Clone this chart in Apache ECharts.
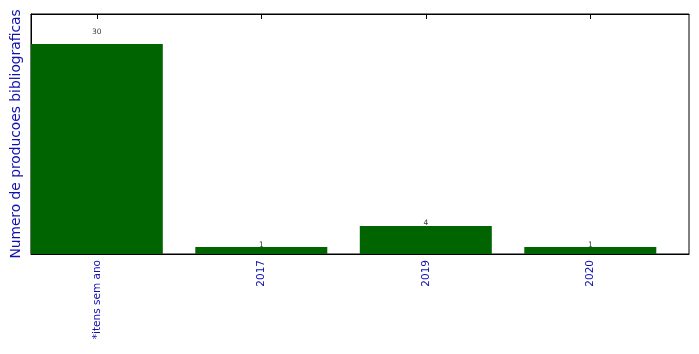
<!DOCTYPE html>
<html>
<head>
<meta charset="utf-8">
<script src="https://cdn.jsdelivr.net/npm/echarts@6/dist/echarts.min.js"></script>
<style>html,body{margin:0;padding:0;background:#fff}#c{width:699px;height:354px}</style>
</head>
<body>
<div id="c"></div>
<script>
var categories = ['*itens sem ano', '2017', '2019', '2020'];
var values = [30, 1, 4, 1];
var yLabel = 'Numero de producoes bibliograficas';

var positions = categories.map(function (c, i) { return i; });
var barData = values.map(function (v, i) { return [i, v]; });
var labelData = values.map(function (v, i) { return [i, v * 1.05, v]; });

var chart = echarts.init(document.getElementById('c'));
chart.setOption({
  animation: false,
  grid: { left: 31, top: 14, width: 658, height: 240, show: true, borderColor: '#000', borderWidth: 1, backgroundColor: 'transparent' },
  xAxis: [{
    type: 'value', min: -0.4, max: 3.6, position: 'bottom',
    axisLine: { show: true, onZero: false, lineStyle: { color: '#000', width: 1 } },
    splitLine: { show: false },
    axisTick: { show: true, inside: true, length: 5, lineStyle: { color: '#000' }, customValues: positions },
    axisLabel: {
      show: true, rotate: 90, margin: 6, color: '#1010b0', fontSize: 10.5, fontFamily: 'DejaVu Sans',
      customValues: positions,
      formatter: function (v) { return categories[Math.round(v)]; }
    }
  }, {
    type: 'value', min: -0.4, max: 3.6, position: 'top',
    axisLine: { show: true, onZero: false, lineStyle: { color: '#000', width: 1 } },
    splitLine: { show: false },
    axisTick: { show: true, inside: true, length: 5, lineStyle: { color: '#000' }, customValues: positions },
    axisLabel: { show: false }
  }],
  yAxis: {
    type: 'value', min: 0, max: 34.3,
    axisLine: { show: true, onZero: false, lineStyle: { color: '#000' } },
    axisTick: { show: false }, axisLabel: { show: false }, splitLine: { show: false },
    name: yLabel, nameLocation: 'middle', nameGap: 8,
    nameTextStyle: { color: '#1010b0', fontSize: 13.8, fontFamily: 'DejaVu Sans' }
  },
  series: [{
    type: 'bar', data: barData, barWidth: 132, xAxisIndex: 0,
    itemStyle: { color: '#006400' }
  }, {
    type: 'scatter', data: labelData, symbolSize: 0, xAxisIndex: 0,
    label: {
      show: true, position: 'top', distance: -2, color: '#000', fontSize: 7.5, fontFamily: 'DejaVu Sans',
      formatter: function (p) { return String(p.value[2]); }
    }
  }]
});
</script>
</body>
</html>
